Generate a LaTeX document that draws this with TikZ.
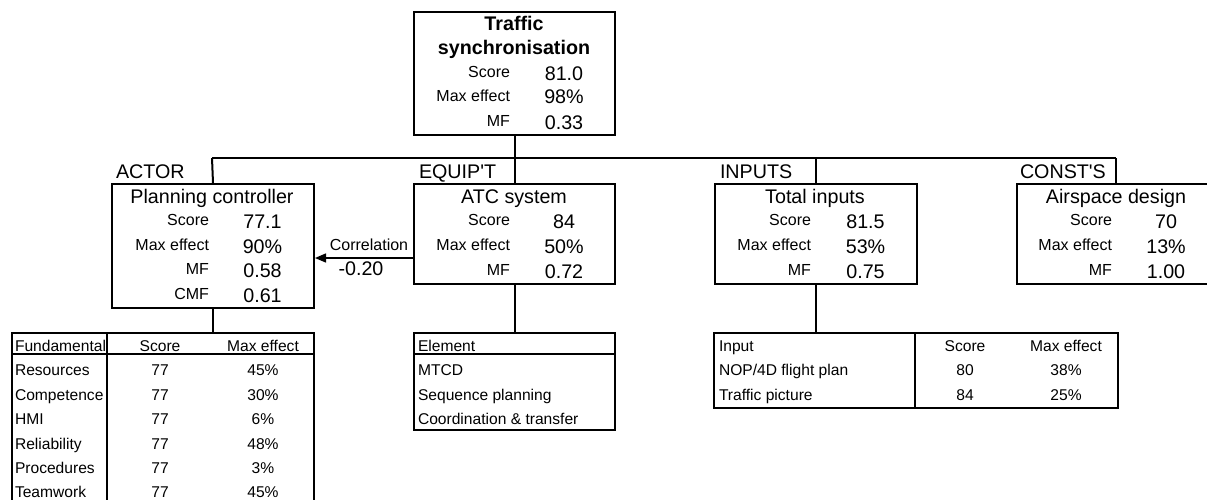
\documentclass[tikz,border=0pt]{standalone}
\usepackage{fontspec}
\setmainfont{Liberation Sans}
\usetikzlibrary{arrows.meta}
\begin{document}
\begin{tikzpicture}[x=1pt,y=-1pt,line width=2pt,
  big/.style={font=\fontsize{19.7}{22}\selectfont},
  small/.style={font=\fontsize{16}{19}\selectfont},
  tsmall/.style={font=\fontsize{15.6}{19}\selectfont},
  box/.style={draw,line width=2pt,inner sep=0pt,anchor=north west},
  lab/.style={small,anchor=base east,inner sep=0pt},
  val/.style={big,anchor=base,inner sep=0pt},
  ttl/.style={big,anchor=base,inner sep=0pt},
  cat/.style={big,anchor=base west,inner sep=0pt},
  cell/.style={tsmall,anchor=base west,inner sep=0pt},
  ccell/.style={tsmall,anchor=base,inner sep=0pt},
  rule/.style={line width=1.6pt}]
\useasboundingbox (0,0) rectangle (1207,500);
\clip (0,0) rectangle (1207,500);

% ---------- boxes ----------
\node[box,minimum width=201pt,minimum height=123pt] (top) at (413,11) {};
\node[box,minimum width=202pt,minimum height=124pt] (pc)  at (111,183) {};
\node[box,minimum width=201pt,minimum height=100pt] (atc) at (413,183) {};
\node[box,minimum width=202pt,minimum height=100pt] (ti)  at (714,183) {};
\node[box,minimum width=201pt,minimum height=100pt] (as)  at (1016,183) {};

% ---------- tables ----------
\node[box,minimum width=302pt,minimum height=175pt] (fund) at (11,332) {};
\node[box,minimum width=201pt,minimum height=97pt]  (elem) at (413,332) {};
\node[box,minimum width=404pt,minimum height=75pt]  (inp)  at (713,332) {};
\draw[rule] (11,354) -- (313,354);
\draw[rule] (107,332) -- (107,507);
\draw[rule] (413,354) -- (614,354);
\draw[rule] (915,332) -- (915,407);

% ---------- connectors ----------
\coordinate (busL) at (212,158);
\coordinate (busR) at (1116,158);
\coordinate (corry) at (0,258);
\draw (busL) -- (busR);
\draw (top.south) -- (atc.north);
\draw (busL) -- (pc.north);
\draw (ti.north |- busL) -- (ti.north);
\draw (busR) -- (busR |- as.north);
\draw (pc.south) -- (pc.south |- fund.north);
\draw (atc.south) -- (atc.south |- elem.north);
\draw (ti.south) -- (ti.south |- inp.north);
\draw[line width=1.5pt,-{Triangle[length=11pt,width=9pt]}] (atc.west |- corry) -- (pc.east |- corry);
\node[small,anchor=base,inner sep=0pt] (corrl) at (369,250) {Correlation};
\node[big,anchor=base,inner sep=0pt] (corrv) at (361,275) {-0.20};

% ---------- category labels ----------
\node[cat] (cA) at (115,178) {ACTOR};
\node[cat] (cE) at (418,178) {EQUIP\textquotesingle T};
\node[cat] (cI) at (719,178) {INPUTS};
\node[cat] (cC) at (1019,178) {CONST\textquotesingle S};

% ---------- top box ----------
\node[ttl,font=\fontsize{19.7}{22}\selectfont\bfseries] (t1) at (514,31) {Traffic};
\node[ttl,font=\fontsize{19.7}{22}\selectfont\bfseries] (t2) at (514,55) {synchronisation};
\foreach \l/\v/\b [count=\i] in {Score/81.0/80.5, Max effect/98\%/104, MF/0.33/129}{
  \node[lab] (tl\i) at (511,\b-2.5) {\l};
  \node[val] (tv\i) at (564,\b) {\v};
}

% ---------- planning controller ----------
\node[ttl] (pct) at (212,203) {Planning controller};
\foreach \l/\v/\b [count=\i] in {Score/77.1/228, Max effect/90\%/253, MF/0.58/277, CMF/0.61/302}{
  \node[lab] (pl\i) at (210,\b-3) {\l};
  \node[val] (pv\i) at (262.5,\b) {\v};
}

% ---------- ATC system ----------
\node[ttl] (atct) at (514,203) {ATC system};
\foreach \l/\v/\b [count=\i] in {Score/84/228, Max effect/50\%/253, MF/0.72/278}{
  \node[lab] (al\i) at (511,\b-3) {\l};
  \node[val] (av\i) at (564,\b) {\v};
}

% ---------- Total inputs ----------
\node[ttl] (tit) at (815,203) {Total inputs};
\foreach \l/\v/\b [count=\i] in {Score/81.5/228, Max effect/53\%/253, MF/0.75/278}{
  \node[lab] (il\i) at (812,\b-3) {\l};
  \node[val] (iv\i) at (865.5,\b) {\v};
}

% ---------- Airspace design ----------
\node[ttl] (ast) at (1116,203) {Airspace design};
\foreach \l/\v/\b [count=\i] in {Score/70/228, Max effect/13\%/253, MF/1.00/278}{
  \node[lab] (sl\i) at (1113,\b-3) {\l};
  \node[val] (sv\i) at (1166,\b) {\v};
}

% ---------- Fundamental table ----------
\node[cell] (fh1) at (14,351) {Fundamental};
\node[ccell] (fh2) at (160,351) {Score};
\node[ccell] (fh3) at (263,351) {Max effect};
\foreach \n/\s/\m/\b [count=\i] in {Resources/77/45\%/375, Competence/77/30\%/400, HMI/77/6\%/424, Reliability/77/48\%/449, Procedures/77/3\%/473, Teamwork/77/45\%/497}{
  \node[cell] (fn\i) at (14,\b) {\n};
  \node[ccell] (fs\i) at (160,\b) {\s};
  \node[ccell] (fm\i) at (263,\b) {\m};
}

% ---------- Element table ----------
\node[cell] (eh) at (417,351) {Element};
\foreach \n/\b [count=\i] in {MTCD/375, Sequence planning/400, Coordination \& transfer/424}{
  \node[cell] (en\i) at (417,\b) {\n};
}

% ---------- Input table ----------
\node[cell] (ih1) at (718,351) {Input};
\node[ccell] (ih2) at (965,351) {Score};
\node[ccell] (ih3) at (1066,351) {Max effect};
\foreach \n/\s/\m/\b [count=\i] in {{NOP/4D flight plan}/80/38\%/375, {Traffic picture}/84/25\%/400}{
  \node[cell] (in\i) at (718,\b) {\n};
  \node[ccell] (is\i) at (965,\b) {\s};
  \node[ccell] (im\i) at (1066,\b) {\m};
}
\end{tikzpicture}
\end{document}
